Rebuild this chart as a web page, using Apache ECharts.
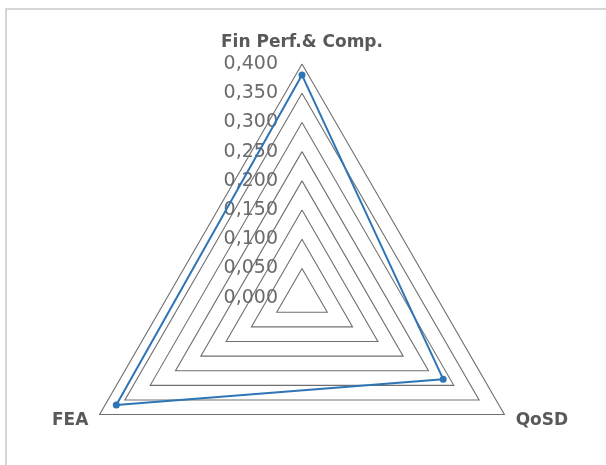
<!DOCTYPE html>
<html>
<head>
<meta charset="utf-8">
<script src="https://cdn.jsdelivr.net/npm/echarts@6/dist/echarts.min.js"></script>
<style>html,body{margin:0;padding:0;background:#fff;}#c{width:606px;height:465px;}</style>
</head>
<body>
<div id="c"></div>
<script>
var indicators = ['Fin Perf.& Comp.', 'FEA', 'QoSD'];
var seriesValues = [0.381, 0.367, 0.279];
var tickValues = [0, 0.05, 0.1, 0.15, 0.2, 0.25, 0.3, 0.35, 0.4];
var tickLabels = ['0,000', '0,050', '0,100', '0,150', '0,200', '0,250', '0,300', '0,350', '0,400'];

var chart = echarts.init(document.getElementById('c'));
var labelFmt = function (v) {
  for (var i = 0; i < tickValues.length; i++) {
    if (Math.abs(tickValues[i] - v) < 1e-9) return tickLabels[i];
  }
  return '';
};
chart.setOption({
  animation: false,
  graphic: [{
    type: 'rect', shape: {x: 6, y: 9, width: 640, height: 480},
    style: {fill: 'none', stroke: '#c8c8c8', lineWidth: 1.5}, silent: true
  }],
  radar: {
    center: [302, 297.7],
    radius: 233.7,
    startAngle: 90,
    shape: 'polygon',
    splitNumber: 8,
    indicator: indicators.map(function (n, i) {
      return {
        name: n, min: 0, max: 0.4,
        axisLabel: {show: i === 0}
      };
    }),
    axisName: {
      color: '#595959',
      fontFamily: 'DejaVu Sans',
      fontWeight: 'bold',
      fontSize: 17
    },
    nameGap: 13,
    axisLine: {show: false},
    axisTick: {show: false},
    splitArea: {show: false},
    splitLine: {lineStyle: {color: '#707070', width: 1.1}},
    axisLabel: {
      show: true,
      color: '#6b6b6b',
      fontFamily: 'DejaVu Sans',
      fontSize: 19,
      margin: 24,
      formatter: labelFmt
    }
  },
  series: [{
    type: 'radar',
    symbol: 'circle',
    symbolSize: 7,
    lineStyle: {color: '#2e75b6', width: 2},
    itemStyle: {color: '#2e75b6'},
    data: [{value: seriesValues}]
  }]
});
</script>
</body>
</html>
